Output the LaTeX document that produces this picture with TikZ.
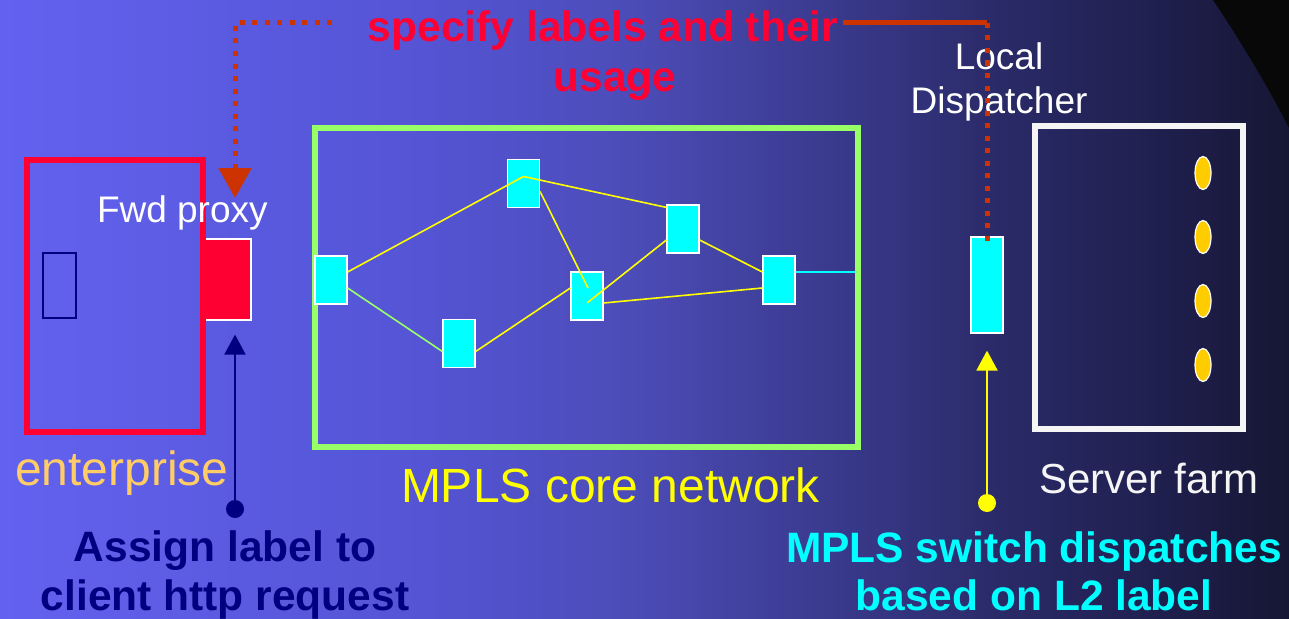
\documentclass[tikz,border=0pt]{standalone}
\usepackage{fontspec}
\setmainfont{Liberation Sans}
\usetikzlibrary{arrows.meta,calc,shapes.geometric}
\definecolor{bred}{HTML}{FF0033}
\definecolor{orng}{HTML}{CC3300}
\definecolor{mgreen}{HTML}{99FF66}
\definecolor{navyc}{HTML}{000080}
\definecolor{golden}{HTML}{FFCC00}
\definecolor{entc}{HTML}{FFCC66}
\definecolor{arcc}{HTML}{080808}
\definecolor{cyanc}{HTML}{00FFFF}
\definecolor{yelc}{HTML}{FFFF00}
\pgfdeclarehorizontalshading{bgshade}{100bp}{%
rgb(0bp)=(0.384,0.384,0.941);
rgb(25bp)=(0.384,0.384,0.941);
rgb(41.7bp)=(0.329,0.329,0.831);
rgb(49.4bp)=(0.298,0.298,0.722);
rgb(57.2bp)=(0.227,0.227,0.557);
rgb(63.8bp)=(0.165,0.165,0.408);
rgb(69.6bp)=(0.125,0.125,0.314);
rgb(75bp)=(0.086,0.086,0.204);
rgb(100bp)=(0.086,0.086,0.204)}
\tikzset{
  sw/.style={draw=white, line width=1.2pt, fill=cyanc, minimum width=32pt, minimum height=48pt, inner sep=0pt},
  yl/.style={draw=yelc, line width=1.6pt},
  gl/.style={draw=mgreen, line width=1.6pt},
  cl/.style={draw=cyanc, line width=1.6pt},
  odot/.style={draw=orng, line width=5pt, dash pattern=on 5pt off 7.5pt},
  oline/.style={draw=orng, line width=5pt},
  bigbox/.style={line width=6pt, inner sep=0pt, outer sep=0pt},
  txt/.style={inner sep=0pt, outer sep=0pt},
  srv/.style={ellipse, fill=golden, draw=white, line width=1.2pt, minimum width=16pt, minimum height=33pt, inner sep=0pt},
  dotn/.style={circle, inner sep=0pt, minimum size=18pt}
}
\begin{document}
\begin{tikzpicture}[x=1pt,y=-1pt]
\useasboundingbox (0,0) rectangle (1289,618);
\shade[shading=bgshade] (0,0) rectangle (1289,618);
\fill[arcc] (1213,0) .. controls (1240,40) and (1270,90) .. (1289,128) -- (1289,0) -- cycle;

% enterprise
\node[draw=white, fill=bred, line width=1.2pt, minimum width=47pt, minimum height=81pt, inner sep=0pt] (proxy) at (227.5,279.5) {};
\node[bigbox, draw=bred, minimum width=176pt, minimum height=272pt] (ent) at (115,296) {};
\node[draw=navyc, line width=1.5pt, minimum width=33pt, minimum height=65pt, inner sep=0pt] (host) at (59.5,285.5) {};

% MPLS core
\node[bigbox, draw=mgreen, minimum width=543pt, minimum height=319pt] (core) at (586.5,287.5) {};
\node[sw] (n1) at (331,280) {};
\node[sw] (n2) at (523.5,183.5) {};
\node[sw] (n3) at (459,343.5) {};
\node[sw] (n4) at (587,296) {};
\node[sw] (n5) at (683,229) {};
\node[sw] (n6) at (779,280) {};
\draw[yl] ($(n1.east)+(0,-8)$) -- ($(n2.center)+(0,-7)$) -- ($(n5.north west)+(0,3)$);
\draw[yl] ($(n2.east)+(0,8)$) -- ($(n4.center)+(1,-8)$);
\draw[gl] ($(n1.east)+(0,8)$) -- ($(n3.west)+(0,8)$);
\draw[yl] ($(n3.east)+(0,8)$) -- ($(n4.west)+(0,-8)$);
\draw[yl] ($(n4.center)+(0,7)$) -- ($(n5.west)+(0,11)$);
\draw[yl] ($(n4.east)+(0,7)$) -- ($(n6.west)+(0,8)$);
\draw[yl] ($(n5.east)+(0,11)$) -- ($(n6.west)+(0,-8)$);
\coordinate (c6) at ($(n6.east)+(0,-8)$);
\draw[cl, shorten >=3pt] (c6) -- (c6 -| core.east);

% local dispatcher and server farm
\node[sw, minimum height=96pt] (disp) at (987,285) {};
\node[bigbox, draw=white!96!black, minimum width=208pt, minimum height=303pt] (farm) at (1139,277.5) {};
\node[srv] (s1) at (1203,173) {};
\node[srv] (s2) at (1203,237) {};
\node[srv] (s3) at (1203,301) {};
\node[srv] (s4) at (1203,365) {};

% texts (multi-line nodes: base = baseline of last line)
\node[txt, anchor=base, align=center, text=bred, font=\fontsize{42.5}{50}\selectfont\bfseries] (spec) at (603,91) {specify labels and their\\\hspace*{24pt}usage};
\node[txt, anchor=base west, text=white, font=\fontsize{37}{44}\selectfont] (fwd) at (97,222) {Fwd proxy};
\node[txt, anchor=base, align=center, text=white, font=\fontsize{37}{44}\selectfont] (ldisp) at (999,113) {Local\\Dispatcher};
\node[txt, anchor=base west, text=entc, font=\fontsize{48}{54}\selectfont] (entl) at (15,485) {enterprise};
\node[txt, anchor=base west, text=yelc, font=\fontsize{48}{54}\selectfont] (corel) at (401,502) {MPLS core network};
\node[txt, anchor=base west, text=white!96!black, font=\fontsize{42}{48}\selectfont] (farml) at (1039,493) {Server farm};
\node[txt, anchor=base, align=center, text=navyc, font=\fontsize{42.5}{49}\selectfont\bfseries] (assign) at (225,610) {Assign label to\\client http request};
\node[txt, anchor=base, align=center, text=cyanc, font=\fontsize{42.5}{48}\selectfont\bfseries] (mswl) at (1034,610) {MPLS switch dispatches\\based on L2 label};

% connectors
\coordinate (sL) at (332,23);
\coordinate (tipL) at (235,198);
\draw[odot, -{Triangle[width=32pt,length=30pt]}] (sL) -- (tipL |- sL) -- (tipL);
\coordinate (sR) at (843,23);
\draw[oline] (sR) -- (disp.north |- sR);
\draw[odot] (disp.north |- sR) -- ($(disp.north)+(0,8)$);

\node[dotn, fill=navyc] (ndot) at (235,509) {};
\draw[navyc, line width=2pt, -{Triangle[width=21pt,length=20pt]}] (ndot.center) -- ($(proxy.south)+(7.5,14)$);
\node[dotn, fill=yelc] (ydot) at (987,503) {};
\draw[yelc, line width=2pt, -{Triangle[width=21pt,length=20pt]}] (ydot.center) -- ($(disp.south)+(0,17)$);
\end{tikzpicture}
\end{document}
